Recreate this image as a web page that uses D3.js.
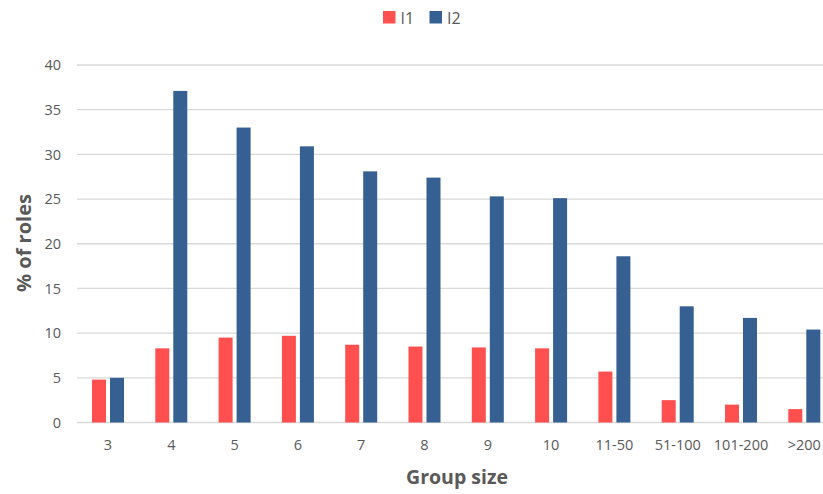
<!DOCTYPE html>
<html><head><meta charset="utf-8">
<script src="https://cdn.jsdelivr.net/npm/d3@7"></script>
<style>body{margin:0;background:#fff}svg{display:block}</style>
</head><body>
<svg id="c" width="823" height="494"></svg>
<script>
const categories = ["3","4","5","6","7","8","9","10","11-50","51-100","101-200",">200"];
const seriesNames = ["I1","I2"];
const valuesI1 = [4.8, 8.3, 9.5, 9.7, 8.7, 8.5, 8.4, 8.3, 5.7, 2.5, 2.0, 1.5];
const valuesI2 = [5.0, 37.1, 33.0, 30.9, 28.1, 27.4, 25.3, 25.1, 18.6, 13.0, 11.7, 10.4];
const yTicks = [0,5,10,15,20,25,30,35,40];
const colors = ["#FF4F4F","#356091"];

const svg = d3.select("#c");
const font = "'Open Sans', Lato, sans-serif";
const step = 63.3, left = 108 - step/2;
const x = d3.scaleBand().domain(categories).range([left, left + step*categories.length]).paddingInner(1 - 32/step).paddingOuter((1 - 32/step)/2);
const y = d3.scaleLinear().domain([0,40]).range([422.5, 65]);
const xs = d3.scaleBand().domain(seriesNames).range([0, x.bandwidth()]).paddingInner(0.222);

// gridlines
svg.append("g").selectAll("line").data(yTicks).join("line")
  .attr("x1", 77).attr("x2", 823)
  .attr("y1", d => y(d)).attr("y2", d => y(d))
  .attr("stroke", "#D9D9D9").attr("stroke-width", 1.3);

// y tick labels
const yAxis = d3.axisLeft(y).tickValues(yTicks).tickSize(0).tickPadding(0);
const ya = svg.append("g").attr("transform","translate(61,0)").call(yAxis);
ya.select(".domain").remove();
ya.selectAll("text").attr("font-family", font).attr("font-size", 14.5).attr("fill", "#595959");

// x tick labels
const xAxis = d3.axisBottom(x).tickSize(0).tickPadding(0);
const xa = svg.append("g").attr("transform","translate(0,440)").call(xAxis);
xa.select(".domain").remove();
xa.selectAll("text").attr("font-family", font).attr("font-size", 14.5).attr("fill", "#595959");

// bars
const data = categories.map((c,i) => ({c, vals:[valuesI1[i], valuesI2[i]]}));
const g = svg.append("g").selectAll("g").data(data).join("g")
  .attr("transform", d => `translate(${x(d.c)},0)`);
g.selectAll("rect").data(d => d.vals.map((v,j)=>({s:seriesNames[j], v, j}))).join("rect")
  .attr("x", d => xs(d.s)).attr("width", xs.bandwidth())
  .attr("y", d => y(d.v)).attr("height", d => y(0) - y(d.v))
  .attr("fill", d => colors[d.j]);

// axis titles
svg.append("text").attr("x", 457).attr("y", 484).attr("text-anchor","middle")
  .attr("font-family", font).attr("font-size", 19.5).attr("font-weight","bold").attr("fill","#595959")
  .text("Group size");
svg.append("text").attr("transform","translate(30.5,243) rotate(-90)").attr("text-anchor","middle")
  .attr("font-family", font).attr("font-size", 20).attr("font-weight","bold").attr("fill","#595959")
  .text("% of roles");

// legend
const leg = svg.append("g").selectAll("g").data(seriesNames).join("g")
  .attr("transform", (d,i) => `translate(${383 + i*46.5},11)`);
leg.append("rect").attr("width", 12.5).attr("height", 12.5).attr("fill", (d,i)=>colors[i]);
leg.append("text").attr("x", 17.5).attr("y", 12.5).attr("font-family", font).attr("font-size", 16)
  .attr("fill","#595959").text(d => d);
</script>
</body></html>
